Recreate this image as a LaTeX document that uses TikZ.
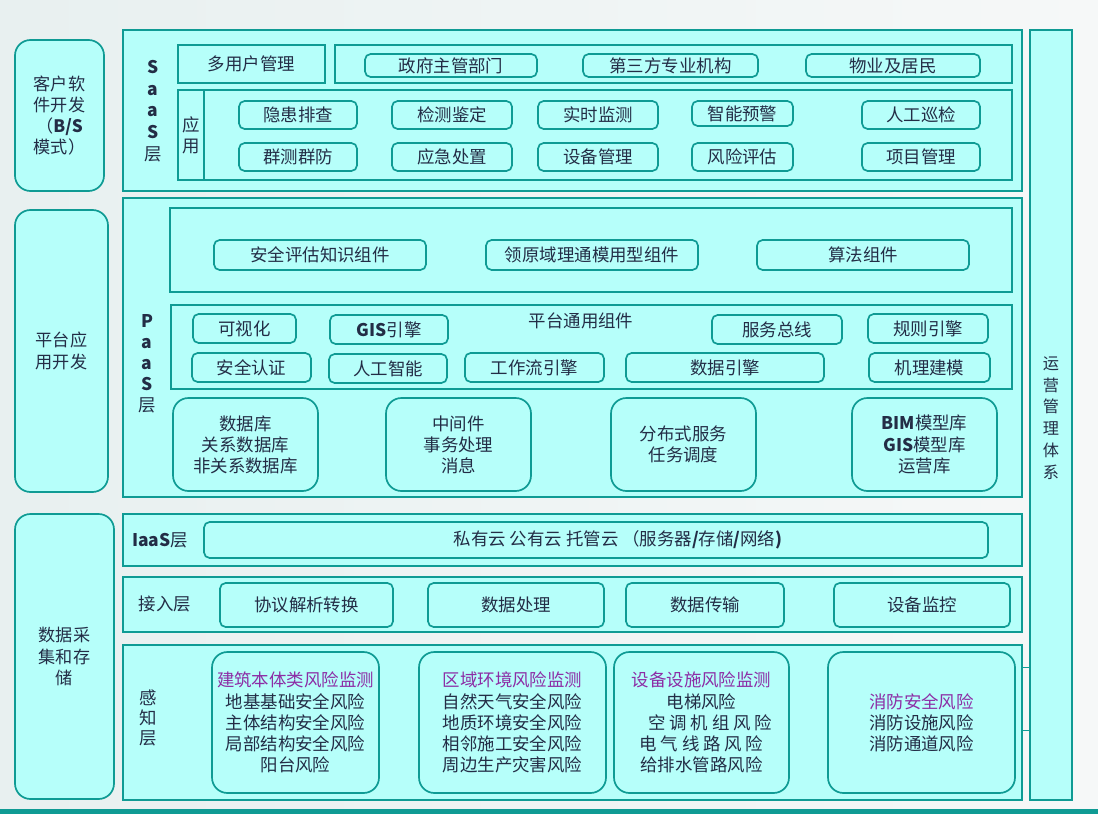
\documentclass[tikz,border=0pt]{standalone}
\usepackage{fontspec}
\setmainfont{Noto Sans CJK SC}
\definecolor{tealline}{RGB}{15,155,148}
\definecolor{cyanfill}{RGB}{182,255,250}
\definecolor{inkblue}{RGB}{35,45,70}
\definecolor{riskpurple}{RGB}{140,45,165}
\newcommand{\fsmain}{\fontsize{12.4}{15}\selectfont}
\newcommand{\fsside}{\fontsize{12.2}{15}\selectfont}
\newcommand{\gap}{\hspace{0.22em}}

\begin{document}
\begin{tikzpicture}[x=0.025cm, y=-0.025cm,
	panel/.style={draw=tealline, fill=cyanfill, line width=1.3pt},
	tile/.style={draw=tealline, fill=cyanfill, line width=1.2pt, rounded corners=4pt},
	bigtile/.style={tile, rounded corners=11pt},
	lbl/.style={text=inkblue, font=\fsmain, align=center, inner sep=0pt},
	sidelbl/.style={lbl, font=\fsside}]
		%%%%% START %%%%%
		
		\fill[left color={rgb,255:red,232;green,240;blue,240}, right color={rgb,255:red,246;green,248;blue,248}] (0,0) rectangle (1098,814);
		\fill[tealline] (0,809) rectangle (1098,814);
		
		% left column
		\draw[bigtile] (15,40) rectangle (104,191) node[sidelbl,midway] (kh) {客户软\\件开发\\（\textbf{B/S}\\模式）};
		\draw[bigtile] (15,210) rectangle (108,492) node[sidelbl,midway] (pt) {平台应\\用开发};
		\draw[bigtile] (15,514) rectangle (114,799) node[sidelbl,midway] (sj) {数据采\\集和存\\储};
		
		% right column
		\draw[panel] (1030,30) rectangle (1072,800);
		\node[sidelbl, font=\fontsize{11.5}{15.5}\selectfont] (yy) at (1051,418) {运\\营\\管\\理\\体\\系};
		\draw[tealline, line width=0.6pt] (1022,667) -- (1030,667);
		\draw[tealline, line width=0.6pt] (1022,730) -- (1030,730);
		
		% SaaS
		\draw[panel] (123,30) rectangle (1022,191);
		\node[lbl, font=\fontsize{12.4}{15.5}\selectfont] (saas) at (153,111) {\textbf{S}\\\textbf{a}\\\textbf{a}\\\textbf{S}\\层};
		\draw[panel] (178,45) rectangle (325,83) node[lbl,midway] (dyh) {多用户管理};
		\draw[panel] (335,45) rectangle (1012,83);
		\draw[tile] (365,54) rectangle (537,77) node[lbl,midway] (zf) {政府主管部门};
		\draw[tile] (583,54) rectangle (758,77) node[lbl,midway] (dsf) {第三方专业机构};
		\draw[tile] (806,54) rectangle (980,77) node[lbl,midway] (wy) {物业及居民};
		\draw[panel] (178,90) rectangle (1012,180);
		\draw[panel, line width=2pt] (178,90) rectangle (204,180) node[lbl,midway] (yy2) {应\\用};
		
		\draw[tile] (239,101) rectangle (357,129) node[lbl,midway] (yh) {隐患排查};
		\draw[tile] (392,101) rectangle (512,129) node[lbl,midway] (jc) {检测鉴定};
		\draw[tile] (538,101) rectangle (658,129) node[lbl,midway] (ss) {实时监测};
		\draw[tile] (692,101) rectangle (793,126) node[lbl,midway] (zn) {智能预警};
		\draw[tile] (862,101) rectangle (980,129) node[lbl,midway] (rg) {人工巡检};
		\draw[tile] (239,143) rectangle (357,171) node[lbl,midway] (qc) {群测群防};
		\draw[tile] (392,143) rectangle (512,171) node[lbl,midway] (yj) {应急处置};
		\draw[tile] (538,143) rectangle (658,171) node[lbl,midway] (sb) {设备管理};
		\draw[tile] (692,143) rectangle (793,171) node[lbl,midway] (fx) {风险评估};
		\draw[tile] (862,143) rectangle (980,171) node[lbl,midway] (xm) {项目管理};
		
		% PaaS
		\draw[panel] (123,198) rectangle (1022,497);
		\node[lbl, font=\fontsize{12.4}{15}\selectfont] (paas) at (147,364) {\textbf{P}\\\textbf{a}\\\textbf{a}\\\textbf{S}\\层};
		\draw[panel] (170,208) rectangle (1012,292);
		\draw[tile] (214,240) rectangle (426,270) node[lbl,midway] (aq) {安全评估知识组件};
		\draw[tile] (486,240) rectangle (698,270) node[lbl,midway] (ly) {领原域理通模用型组件};
		\draw[tile] (757,240) rectangle (969,270) node[lbl,midway] (sf) {算法组件};
		
		\draw[panel] (171,305) rectangle (1012,389);
		\node[lbl] (ptty) at (581,321) {平台通用组件};
		\draw[tile] (193,314) rectangle (296,343) node[lbl,midway] (ksh) {可视化};
		\draw[tile] (330,315) rectangle (448,344) node[lbl,midway] (gis) {\textbf{GIS}引擎};
		\draw[tile] (712,315) rectangle (842,344) node[lbl,midway] (fw) {服务总线};
		\draw[tile] (868,314) rectangle (988,343) node[lbl,midway] (gz) {规则引擎};
		\draw[tile] (192,353) rectangle (311,382) node[lbl,midway] (rz) {安全认证};
		\draw[tile] (329,354) rectangle (447,383) node[lbl,midway] (ai) {人工智能};
		\draw[tile] (465,353) rectangle (604,382) node[lbl,midway] (gzl) {工作流引擎};
		\draw[tile] (626,353) rectangle (824,382) node[lbl,midway] (sjyq) {数据引擎};
		\draw[tile] (869,353) rectangle (990,382) node[lbl,midway] (jl) {机理建模};
		
		\draw[bigtile] (173,398) rectangle (318,491) node[lbl,midway] (db) {数据库\\关系数据库\\非关系数据库};
		\draw[bigtile] (386,398) rectangle (531,491) node[lbl,midway] (zj) {中间件\\事务处理\\消息};
		\draw[bigtile] (611,398) rectangle (756,491) node[lbl,midway] (fb) {分布式服务\\任务调度};
		\draw[bigtile] (852,398) rectangle (997,491) node[lbl,midway] (bim) {\textbf{BIM}模型库\\\textbf{GIS}模型库\\运营库};
		
		% IaaS
		\draw[panel] (123,514) rectangle (1022,566);
		\node[lbl] (iaas) at (160,540) {\textbf{IaaS}层};
		\draw[tile] (204,522) rectangle (988,558);
		\node[lbl] (yun) at (618,540) {私有云 公有云 托管云 （服务器\textbf{/}存储\textbf{/}网络\textbf{)}};
		
		% access layer
		\draw[panel] (123,577) rectangle (1022,632);
		\node[lbl] (jr) at (165,604) {接入层};
		\draw[tile] (220,583) rectangle (393,627) node[lbl,midway] (xy) {协议解析转换};
		\draw[tile] (428,583) rectangle (604,627) node[lbl,midway] (cl) {数据处理};
		\draw[tile] (626,583) rectangle (784,627) node[lbl,midway] (cs) {数据传输};
		\draw[tile] (834,583) rectangle (1010,627) node[lbl,midway] (jk) {设备监控};
		
		% sensing layer
		\draw[panel] (123,645) rectangle (1022,800);
		\node[lbl, font=\fontsize{12.4}{14.5}\selectfont] (gz2) at (148,718) {感\\知\\层};
		\draw[bigtile] (212,652) rectangle (379,793) node[lbl,midway] (jz) {\textcolor{riskpurple}{建筑本体类风险监测}\\地基基础安全风险\\主体结构安全风险\\局部结构安全风险\\阳台风险};
		\draw[bigtile] (419,652) rectangle (606,793) node[lbl,midway] (qy) {\textcolor{riskpurple}{区域环境风险监测}\\自然天气安全风险\\地质环境安全风险\\相邻施工安全风险\\周边生产灾害风险};
		\draw[bigtile] (614,652) rectangle (789,793) node[lbl,midway] (ss2) {\textcolor{riskpurple}{设备设施风险监测}\\电梯风险\\\hspace{1em}空\gap 调\gap 机\gap 组\gap 风\gap 险\\电\gap 气\gap 线\gap 路\gap 风\gap 险\\给排水管路风险\hspace{0.6em}};
		\draw[bigtile] (828,652) rectangle (1015,793) node[lbl,midway] (xf) {\textcolor{riskpurple}{消防安全风险}\\消防设施风险\\消防通道风险};
		
		%%%%% END %%%%%
	\end{tikzpicture}
\end{document}
